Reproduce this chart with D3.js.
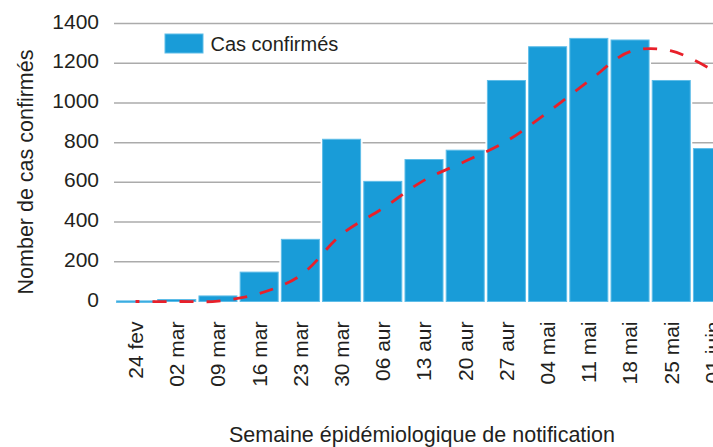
<!DOCTYPE html>
<html>
<head>
<meta charset="utf-8">
<script src="https://cdn.jsdelivr.net/npm/d3@7"></script>
<style>
  body { margin: 0; background: #fff; }
  text { font-family: "Liberation Sans", Arial, Helvetica, sans-serif; fill: #231f20; }
</style>
</head>
<body>
<div id="chart"></div>
<script>
// data
const weeks = ["24 fev", "02 mar", "09 mar", "16 mar", "23 mar", "30 mar", "06 aur", "13 aur",
               "20 aur", "27 aur", "04 mai", "11 mai", "18 mai", "25 mai", "01 juin"];
const cases = [3, 10, 28, 148, 313, 817, 605, 715, 762, 1113, 1283, 1325, 1317, 1113, 770];
// smoothed trend (red dashed)
const trend = [0, 0, 2, 40, 131, 338, 469, 610, 706, 807, 953, 1110, 1258, 1262, 1165];
const yTicks = [0, 200, 400, 600, 800, 1000, 1200, 1400];

const W = 713, H = 447;

const svg = d3.select("#chart").append("svg")
  .attr("width", W)
  .attr("height", H);

const x = d3.scaleBand()
  .domain(weeks)
  .range([115, 733])
  .paddingInner(0.053)
  .paddingOuter(0.025);

const y = d3.scaleLinear()
  .domain([0, 1400])
  .range([301.5, 23.5]);

// gridlines (behind bars)
svg.append("g")
  .selectAll("line")
  .data(yTicks.filter(d => d > 0))
  .enter()
  .append("line")
    .attr("x1", 114)
    .attr("x2", W)
    .attr("y1", d => y(d))
    .attr("y2", d => y(d))
    .attr("stroke", "#ababab")
    .attr("stroke-width", 1.5);

// white halo round each bar so gridlines stop short of them
svg.append("g")
  .selectAll("rect")
  .data(cases)
  .enter()
  .append("rect")
    .attr("x", (d, i) => x(weeks[i]) - 1.5)
    .attr("y", d => y(d) - 1.5)
    .attr("width", x.bandwidth() + 3)
    .attr("height", d => y(0) - y(d) + 1.5)
    .attr("fill", "#fff");

// bars
svg.append("g")
  .selectAll("rect")
  .data(cases)
  .enter()
  .append("rect")
    .attr("x", (d, i) => x(weeks[i]) + 0.5)
    .attr("y", d => y(d))
    .attr("width", x.bandwidth() - 1)
    .attr("height", d => Math.max(1.5, y(0) - y(d)))
    .attr("fill", "#199cd8")
    .attr("stroke", "#5fbde8")
    .attr("stroke-width", 1);

// trend line
const line = d3.line()
  .x((d, i) => x(weeks[i]) + x.bandwidth() / 2)
  .y(d => y(d))
  .curve(d3.curveCatmullRom);

svg.append("path")
  .datum(trend)
  .attr("d", line)
  .attr("fill", "none")
  .attr("stroke", "#e8202a")
  .attr("stroke-width", 2.8)
  .attr("stroke-dasharray", "14,13")
  .attr("stroke-dashoffset", 10);

// y axis labels
const yAxis = svg.append("g")
  .attr("transform", "translate(114,0)")
  .call(d3.axisLeft(y).tickValues(yTicks).tickFormat(d3.format("d")).tickSize(0).tickPadding(15));
yAxis.select(".domain").remove();
yAxis.selectAll("text")
  .attr("dy", "0.22em")
  .style("font-size", "21px")
  .style("font-family", null);

// x axis labels, rotated
const xAxis = svg.append("g")
  .attr("transform", "translate(0," + y(0) + ")")
  .call(d3.axisBottom(x).tickSize(0));
xAxis.select(".domain").remove();
xAxis.selectAll("text")
  .attr("transform", "rotate(-90)")
  .attr("x", -20)
  .attr("y", 0)
  .attr("dy", "0.35em")
  .style("text-anchor", "end")
  .style("font-size", "21px")
  .style("font-family", null);

// axis titles
svg.append("text")
  .attr("transform", "translate(33,172) rotate(-90)")
  .attr("text-anchor", "middle")
  .style("font-size", "21.5px")
  .text("Nomber de cas confirmés");

svg.append("text")
  .attr("x", 422)
  .attr("y", 442)
  .attr("text-anchor", "middle")
  .style("font-size", "21.5px")
  .text("Semaine épidémiologique de notification");

// legend
svg.append("rect")
  .attr("x", 165)
  .attr("y", 34)
  .attr("width", 38)
  .attr("height", 19)
  .attr("fill", "#199cd8")
  .attr("stroke", "#5fbde8")
  .attr("stroke-width", 1);

svg.append("text")
  .attr("x", 210.5)
  .attr("y", 51)
  .style("font-size", "20px")
  .text("Cas confirmés");
</script>
</body>
</html>
